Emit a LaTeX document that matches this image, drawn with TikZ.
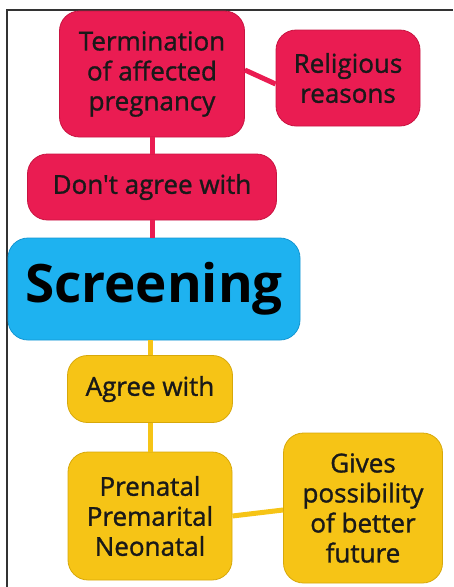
\documentclass[tikz,border=0pt]{standalone}
\usepackage{fontspec}
\setmainfont{Open Sans}
\newfontfamily\semifont[FakeBold=1.2]{Open Sans}
\usetikzlibrary{calc}
\definecolor{redfill}{RGB}{234,28,82}
\definecolor{redline}{RGB}{200,20,65}
\definecolor{yelfill}{RGB}{246,196,22}
\definecolor{yelline}{RGB}{215,168,10}
\definecolor{bluefill}{RGB}{30,178,240}
\definecolor{blueline}{RGB}{20,150,210}
\tikzset{box/.style = {draw, rounded corners=20pt, align=center, inner sep=0pt, line width=0.8pt, font=\semifont\fontsize{26}{30}\selectfont, text=black!90}}
\tikzset{redbox/.style = {box, fill=redfill, draw=redline}}
\tikzset{yelbox/.style = {box, fill=yelfill, draw=yelline}}
\tikzset{link/.style = {line width=5pt}}

\begin{document}
\begin{tikzpicture}[x=1pt,y=-1pt]
                    \useasboundingbox (0,0) rectangle (453,587);
                    \draw[black!80, line width=1.5pt] (7,587) -- (7,10) -- (453,10);

                    \node[redbox, minimum width=185pt, minimum height=126pt] (term) at (152,74) {Termination\\of affected\\pregnancy};
                    \node[redbox, minimum width=144pt, minimum height=96pt] (relig) at (348,78) {Religious\\reasons};
                    \node[redbox, minimum width=249pt, minimum height=66pt] (dont) at (152,187) {Don't agree with};
                    \node[box, fill=bluefill, draw=blueline, minimum width=292pt, minimum height=102pt, font=\fontsize{53}{60}\bfseries\selectfont, text=black] (scr) at (154,289) {Screening};
                    \node[yelbox, minimum width=165pt, minimum height=67pt] (agree) at (150,389) {Agree with};
                    \node[yelbox, minimum width=164pt, minimum height=128pt] (pre) at (150,516) {Prenatal\\Premarital\\Neonatal};
                    \node[yelbox, minimum width=159pt, minimum height=150pt] (gives) at (363,508) {Gives\\possibility\\of better\\future};

                    \draw[redfill, link] (term.south) -- (dont.north);
                    \draw[redfill, link] (dont.south) -- (scr.north -| dont.south);
                    \draw[redfill, link] ($(term.east)+(0,-4)$) -- ($(relig.west)+(0,6)$);
                    \draw[yelfill, link] (scr.south -| agree.south) -- (agree.north);
                    \draw[yelfill, link] (agree.south) -- (pre.north);
                    \draw[yelfill, link] (pre.east) -- ($(gives.west)+(0,2)$);
                \end{tikzpicture}
\end{document}
